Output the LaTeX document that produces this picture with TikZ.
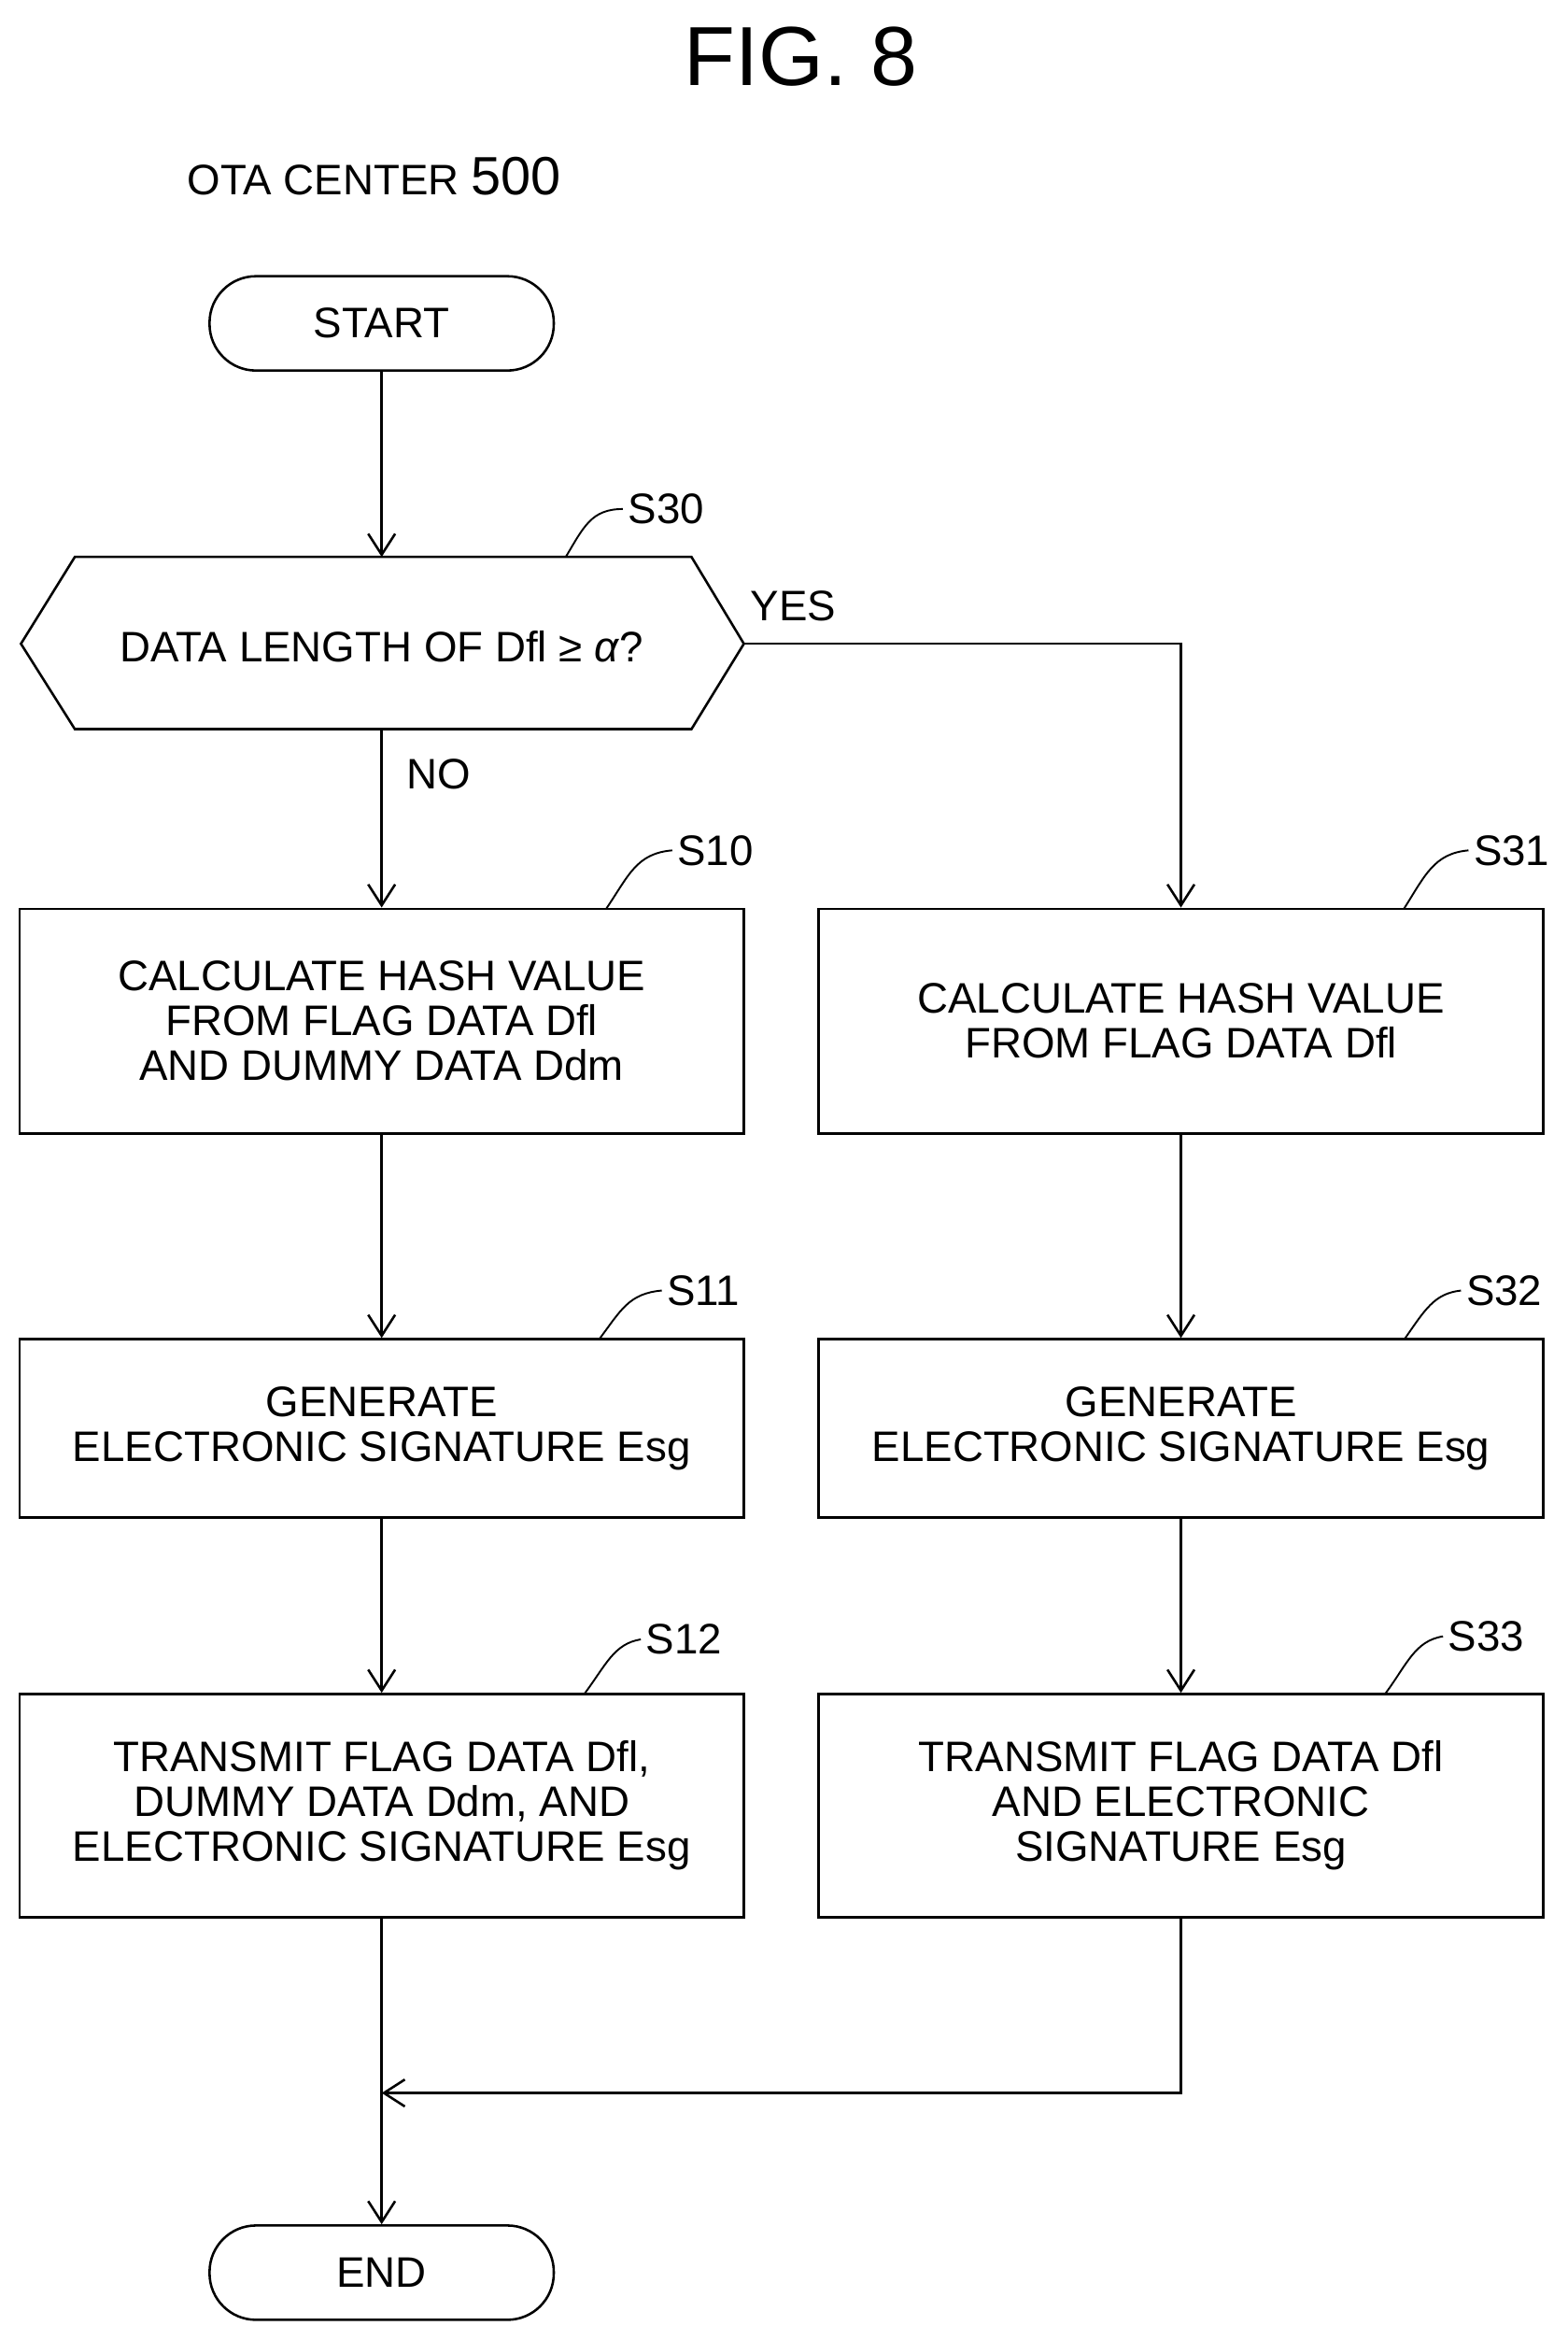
\documentclass[tikz,border=0pt]{standalone}
\usepackage{fontspec}
\setmainfont{Liberation Sans}
\usetikzlibrary{arrows.meta}
\begin{document}
\begin{tikzpicture}[x=1pt,y=-1pt,
  every node/.style={font=\fontsize{28.5}{30}\selectfont},
  box/.style={draw,line width=1.6pt,minimum width=484pt,align=center,inner sep=0pt},
  term/.style={draw,line width=1.6pt,rounded corners=31pt,minimum width=230pt,minimum height=63pt},
  arr/.style={line width=1.6pt,-{Straight Barb[length=14pt,width=18pt]}},
  ln/.style={line width=1.6pt},
  lead/.style={line width=1.2pt}]
\useasboundingbox (0,0) rectangle (1047,1563);
\node (title) at (535,38) {\fontsize{56}{60}\selectfont FIG. 8};
\node (ota) at (250,118) {OTA CENTER \fontsize{36}{38}\selectfont 500};
\node[term] (start) at (255,216) {START};
% hexagon
\coordinate (hl) at (14,430); \coordinate (htl) at (50,372); \coordinate (htr) at (462,372);
\coordinate (hr) at (497,430); \coordinate (hbr) at (462,487); \coordinate (hbl) at (50,487);
\draw[ln] (hl)--(htl)--(htr)--(hr)--(hbr)--(hbl)--cycle;
\node (s30) at (255,432) {DATA LENGTH OF Dfl ≥ \textit{α}?};
\coordinate (htop) at (255,372); \coordinate (hbot) at (255,487);
% boxes
\node[box,minimum height=150pt] (s10b) at (255,682) {CALCULATE HASH VALUE\\FROM FLAG DATA Dfl\\AND DUMMY DATA Ddm};
\node[box,minimum height=119pt] (s11b) at (255,954) {GENERATE\\ELECTRONIC SIGNATURE Esg};
\node[box,minimum height=149pt] (s12b) at (255,1206) {TRANSMIT FLAG DATA Dfl,\\DUMMY DATA Ddm, AND\\ELECTRONIC SIGNATURE Esg};
\node[box,minimum height=150pt] (s31b) at (789,682) {CALCULATE HASH VALUE\\FROM FLAG DATA Dfl};
\node[box,minimum height=119pt] (s32b) at (789,954) {GENERATE\\ELECTRONIC SIGNATURE Esg};
\node[box,minimum height=149pt] (s33b) at (789,1206) {TRANSMIT FLAG DATA Dfl\\AND ELECTRONIC\\SIGNATURE Esg};
\node[term] (end) at (255,1518) {END};
% step labels
\node (l30) at (445,340) {S30}; \draw[lead] (378,372) .. controls (390,352) and (395,340) .. (l30.west);
\node (l10) at (478,568) {S10}; \draw[lead] (405,607) .. controls (420,585) and (425,570) .. (l10.west);
\node (l11) at (470,862) {S11}; \draw[lead] (400,895) .. controls (415,875) and (420,864) .. (l11.west);
\node (l12) at (457,1095) {S12}; \draw[lead] (390,1132) .. controls (405,1112) and (410,1098) .. (l12.west);
\node (l31) at (1010,568) {S31}; \draw[lead] (938,607) .. controls (952,585) and (958,570) .. (l31.west);
\node (l32) at (1005,862) {S32}; \draw[lead] (938,895) .. controls (952,875) and (958,864) .. (l32.west);
\node (l33) at (993,1093) {S33}; \draw[lead] (925,1132) .. controls (940,1112) and (945,1096) .. (l33.west);
\node (yes) at (530,405) {YES};
\node (no) at (293,517) {NO};
% connectors
\draw[arr] (start) -- (htop);
\draw[arr] (hbot) -- (s10b);
\draw[arr] (hr) -| (s31b);
\draw[arr] (s10b) -- (s11b);
\draw[arr] (s11b) -- (s12b);
\draw[arr] (s31b) -- (s32b);
\draw[arr] (s32b) -- (s33b);
\coordinate (mg) at (255,1398);
\draw[arr] (s33b.south) |- (mg);
\draw[arr] (s12b) -- (end);
\end{tikzpicture}
\end{document}
